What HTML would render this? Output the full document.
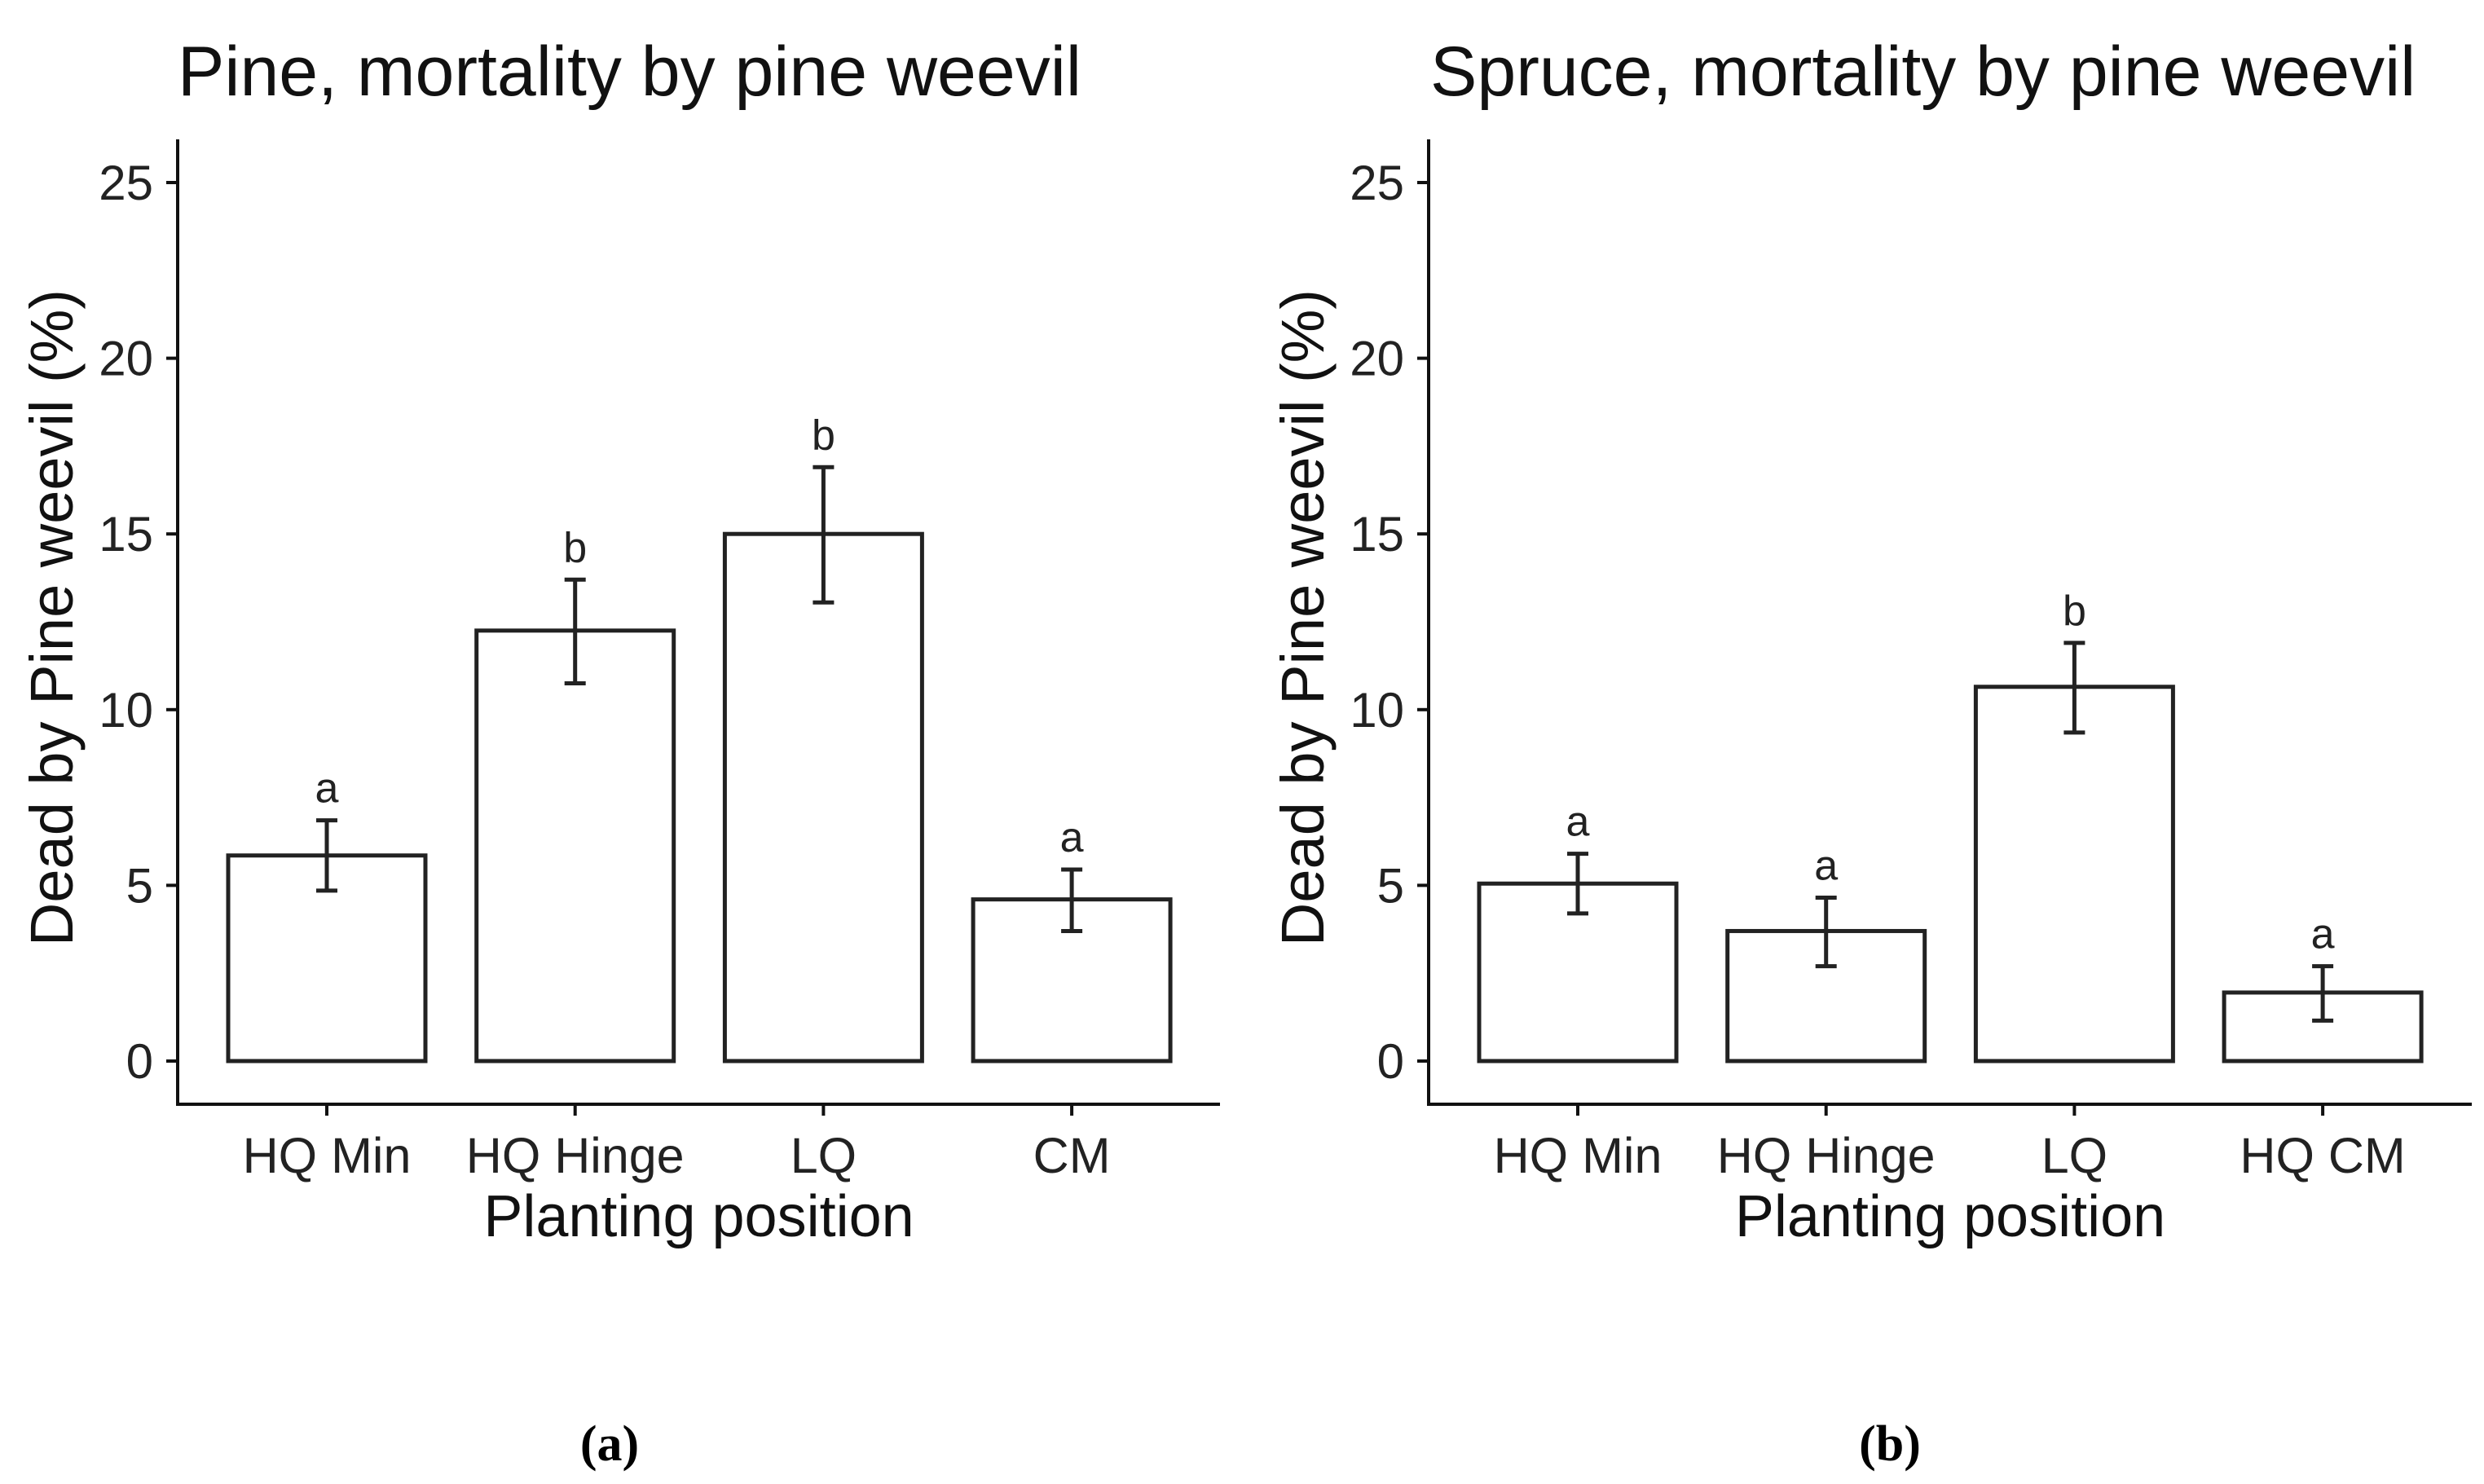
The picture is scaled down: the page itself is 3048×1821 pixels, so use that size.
<!DOCTYPE html>
<html><head><meta charset="utf-8"><style>
html,body{margin:0;padding:0;background:#fff;}
svg{display:block;font-family:"Liberation Sans",Arial,sans-serif;}
</style></head><body>
<svg id="c" width="3048" height="1821" viewBox="0 0 3048 1821"></svg>
<script>
const pineCategories=["HQ Min","HQ Hinge","LQ","CM"];
const pineValues=[5.85,12.25,15.0,4.6];
const pineLow=[4.85,10.75,13.05,3.7];
const pineHigh=[6.85,13.7,16.9,5.45];
const pineLetters=["a","b","b","a"];
const spruceCategories=["HQ Min","HQ Hinge","LQ","HQ CM"];
const spruceValues=[5.05,3.7,10.65,1.95];
const spruceLow=[4.2,2.7,9.35,1.15];
const spruceHigh=[5.9,4.65,11.9,2.7];
const spruceLetters=["a","a","b","a"];
const yTicks=[0,5,10,15,20,25];

const svg=document.getElementById('c');
const NS='http://www.w3.org/2000/svg';
function mk(tag,attrs,parent,text){const e=document.createElementNS(NS,tag);for(const k in attrs)e.setAttribute(k,attrs[k]);if(text!==undefined)e.textContent=text;(parent||svg).appendChild(e);return e;}

function panel(opt){
  const g=mk('g',{});
  
  
  const y=v=>1302-v*43.12;
  const x=i=>opt.x0+i*opt.step;
  const bw=242;
  const t=mk('text',{x:opt.titleX,y:117,'font-size':86,fill:'#111'},g,opt.title);
  
  
  const ya=mk('line',{x1:opt.ax,y1:171,x2:opt.ax,y2:1355,stroke:'#111','stroke-width':4},g);
  
  
  const xa=mk('line',{x1:opt.ax-2,y1:1355,x2:opt.axEnd,y2:1355,stroke:'#111','stroke-width':4},g);
  
  
  yTicks.forEach(v=>{
    const tk=mk('line',{x1:opt.ax-14,y1:y(v),x2:opt.ax,y2:y(v),stroke:'#111','stroke-width':4},g);
    
    
    const tl=mk('text',{x:opt.ax-30,y:y(v)+21,'font-size':60,'text-anchor':'end',fill:'#222'},g,String(v));
    
    
  });
  opt.cats.forEach((c,i)=>{
    const cx=x(i);
    const bar=mk('rect',{x:cx-bw/2,y:y(opt.vals[i]),width:bw,height:y(0)-y(opt.vals[i]),fill:'#fff',stroke:'#222','stroke-width':5},g);
    
    
    const eb=mk('path',{d:`M${cx-13},${y(opt.hi[i])}H${cx+13}M${cx},${y(opt.hi[i])}V${y(opt.lo[i])}M${cx-13},${y(opt.lo[i])}H${cx+13}`,stroke:'#222','stroke-width':5,fill:'none'},g);
    
    
    const lt=mk('text',{x:cx,y:y(opt.hi[i])-22,'font-size':52,'text-anchor':'middle',fill:'#222'},g,opt.letters[i]);
    
    
    const tk=mk('line',{x1:cx,y1:1355,x2:cx,y2:1369,stroke:'#111','stroke-width':4},g);
    
    
    const xl=mk('text',{x:cx,y:1439,'font-size':61,'text-anchor':'middle',fill:'#222'},g,c);
    
    
  });
  const xt=mk('text',{x:(opt.ax+opt.axEnd)/2,y:1517,'font-size':72,'text-anchor':'middle',fill:'#111'},g,'Planting position');
  
  
  const ytx=opt.ax-129;
  const yt=mk('text',{x:ytx,y:758,'font-size':74,'text-anchor':'middle',fill:'#111',transform:`rotate(-90 ${ytx} 758)`},g,'Dead by Pine weevil (%)');
  
  
  const cap=mk('text',{x:opt.capX,y:1792,'font-size':62,'font-weight':'bold','text-anchor':'middle',fill:'#000','font-family':'"Liberation Serif",serif'},g,opt.cap);
  
  
}
panel({name:'pine-panel',title:'Pine, mortality by pine weevil',titleX:218,ax:218,axEnd:1497,x0:401,step:304.7,cats:pineCategories,vals:pineValues,lo:pineLow,hi:pineHigh,letters:pineLetters,cap:'(a)',capX:748});
panel({name:'spruce-panel',title:'Spruce, mortality by pine weevil',titleX:1755,ax:1753,axEnd:3033,x0:1936,step:304.7,cats:spruceCategories,vals:spruceValues,lo:spruceLow,hi:spruceHigh,letters:spruceLetters,cap:'(b)',capX:2319});
</script>
</body></html>
